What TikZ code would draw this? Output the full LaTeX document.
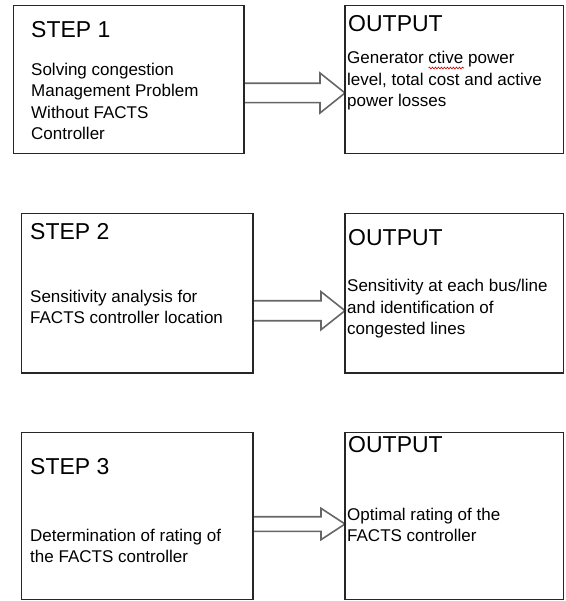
\documentclass[tikz,border=0pt]{standalone}
\usepackage{fontspec}
\setmainfont{Liberation Sans}
\usetikzlibrary{calc,decorations.pathmorphing}
\tikzset{
  box/.style={draw=black!85, line width=1.3pt, fill=white, rectangle, inner sep=0pt, anchor=north west},
  head/.style={anchor=base west, inner sep=0pt, font=\fontsize{23}{27}\selectfont},
  body/.style={anchor=north west, inner sep=0pt, align=left, font=\fontsize{17}{21.5}\selectfont},
  blockarrow/.style={draw=black!60, line width=1.6pt, fill=white, line join=miter},
  squiggle/.style={draw=red!80!black, line width=0.6pt, decorate, decoration={snake, amplitude=0.9pt, segment length=3pt}}
}
\newcommand{\blockarr}[5]{% start, end, headlen, shafthalf, headhalf
  \path[blockarrow] ($(#1)+(0,-#4)$) -- ($(#2)+(-#3,-#4)$) -- ($(#2)+(-#3,-#5)$) -- (#2) -- ($(#2)+(-#3,#5)$) -- ($(#2)+(-#3,#4)$) -- ($(#1)+(0,#4)$) -- cycle;}
\begin{document}
\begin{tikzpicture}[x=1pt,y=-1pt]
\useasboundingbox (0,0) rectangle (565,601);
% boxes
\node[box, minimum width=230pt, minimum height=148pt] (s1) at (12.7,4.8) {};
\node[box, minimum width=218pt, minimum height=148pt] (o1) at (345,4.8) {};
\node[box, minimum width=231pt, minimum height=159.5pt] (s2) at (20.7,212.8) {};
\node[box, minimum width=218pt, minimum height=159.5pt] (o2) at (345,212.8) {};
\node[box, minimum width=231pt, minimum height=167.5pt] (s3) at (20.7,431.5) {};
\node[box, minimum width=218pt, minimum height=167.5pt] (o3) at (345,431.5) {};
% arrows
\coordinate (a1s) at (s1.east |- 0,93);
\coordinate (a1e) at (o1.west |- 0,93);
\blockarr{a1s}{a1e}{25}{9.7}{20}
\coordinate (a2s) at (s2.east |- 0,310.7);
\coordinate (a2e) at (o2.west |- 0,310.7);
\blockarr{a2s}{a2e}{24}{10}{19}
\coordinate (a3s) at (s3.east |- 0,524);
\coordinate (a3e) at (o3.west |- 0,524);
\blockarr{a3s}{a3e}{24}{7.3}{15.7}
% redraw box borders over arrow ends
\draw[black!85, line width=1.3pt] (s1.north east) -- (s1.south east);
\draw[black!85, line width=1.3pt] (o1.north west) -- (o1.south west);
\draw[black!85, line width=1.3pt] (s2.north east) -- (s2.south east);
\draw[black!85, line width=1.3pt] (o2.north west) -- (o2.south west);
\draw[black!85, line width=1.3pt] (s3.north east) -- (s3.south east);
\draw[black!85, line width=1.3pt] (o3.north west) -- (o3.south west);
% texts
\node[head] (h1) at (31,38) {STEP 1};
\node[body] (b1) at (31,62.5) {Solving congestion\\Management Problem\\Without FACTS\\Controller};
\node[head] (oh1) at (348,32) {OUTPUT};
\node[body] (ob1) at (347,51) {Generator ctive power\\level, total cost and active\\power losses};
\draw[squiggle] ($(ob1.north west)+(81.5,17)$) -- ($(ob1.north west)+(117,17)$);
\node[head] (h2) at (30,240) {STEP 2};
\node[body] (b2) at (30,289.5) {Sensitivity analysis for\\FACTS controller location};
\node[head] (oh2) at (348,246) {OUTPUT};
\node[body] (ob2) at (347,279) {Sensitivity at each bus/line\\and identification of\\congested lines};
\node[head] (h3) at (30,474) {STEP 3};
\node[body] (b3) at (30,528.5) {Determination of rating of\\the FACTS controller};
\node[head] (oh3) at (348,452) {OUTPUT};
\node[body] (ob3) at (347,507.5) {Optimal rating of the\\FACTS controller};
\end{tikzpicture}
\end{document}
